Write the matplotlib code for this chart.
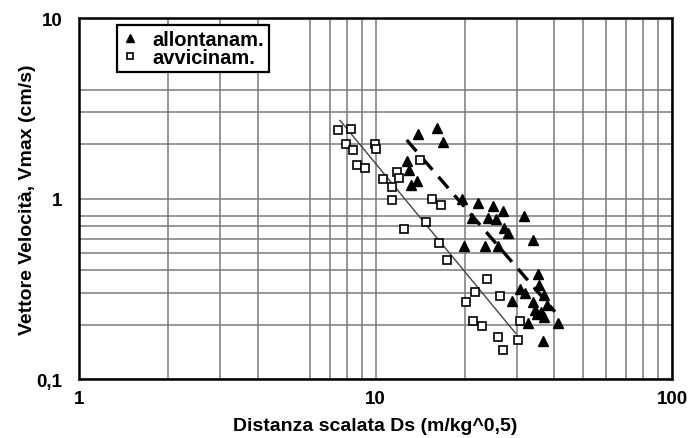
#!/usr/bin/env python3
"""Vmax against scaled distance, log-log, two series with fitted lines."""

import matplotlib
matplotlib.use("Agg")
import matplotlib.pyplot as plt
from matplotlib.ticker import FixedLocator, NullFormatter

plt.rcParams["font.family"] = ["Liberation Sans", "DejaVu Sans"]
plt.rcParams["font.weight"] = "bold"

# allontanam. (filled triangles)
allont_x = [13.86, 16.06, 16.83, 12.74, 12.97, 13.77, 13.22, 19.57, 22.17, 24.96,
            26.98, 21.21, 23.95, 25.59, 31.76, 27.23, 28.05, 33.98, 19.93, 23.35,
            25.96, 35.41, 35.60, 30.72, 31.93, 37.15, 28.87, 34.06, 37.87, 34.51,
            36.02, 34.97, 37.01, 32.76, 41.10, 36.58]
allont_y = [2.28, 2.46, 2.05, 1.62, 1.43, 1.25, 1.19, 0.99, 0.946, 0.906,
            0.858, 0.784, 0.784, 0.774, 0.797, 0.687, 0.645, 0.588, 0.548, 0.548,
            0.546, 0.383, 0.333, 0.315, 0.2985, 0.293, 0.269, 0.266, 0.256, 0.2416,
            0.2365, 0.2297, 0.221, 0.2034, 0.2047, 0.1616]

# avvicinam. (open squares)
avvic_x = [7.49, 8.25, 7.95, 8.40, 9.96, 10.04, 8.64, 9.24, 10.62, 11.82,
           12.00, 11.34, 14.13, 11.39, 15.55, 16.64, 14.77, 12.45, 16.38, 17.39,
           23.83, 21.66, 20.20, 26.36, 21.27, 22.92, 30.78, 25.96, 30.17, 26.92]
avvic_y = [2.395, 2.417, 1.995, 1.848, 2.013, 1.878, 1.531, 1.468, 1.280, 1.407,
           1.292, 1.155, 1.632, 0.978, 0.996, 0.926, 0.745, 0.675, 0.566, 0.454,
           0.356, 0.303, 0.268, 0.2866, 0.2108, 0.1963, 0.2108, 0.171, 0.1647, 0.145]

# regression lines, end points
fit_allont_x = [12.74, 40.3]
fit_allont_y = [2.11, 0.236]
fit_avvic_x = [7.59, 29.7]
fit_avvic_y = [2.71, 0.179]

x_minor = [2, 3, 4, 6, 7, 8, 9, 20, 30, 40, 50, 60, 70, 80, 90]
y_minor = [0.2, 0.3, 0.4, 0.5, 0.6, 0.7, 0.8, 2, 3, 4]

fig = plt.figure(figsize=(6.91, 4.39), dpi=100)
ax = fig.add_axes([79 / 691, 1 - 380 / 439, 593 / 691, 361 / 439])
ax.set_xscale("log")
ax.set_yscale("log")
ax.set_xlim(1, 100)
ax.set_ylim(0.1, 10)

ax.set_xticks([1, 10, 100])
ax.set_xticklabels(["1", "10", "100"])
ax.set_yticks([0.1, 1, 10])
ax.set_yticklabels(["0,1", "1", "10"])
ax.xaxis.set_minor_locator(FixedLocator(x_minor))
ax.yaxis.set_minor_locator(FixedLocator(y_minor))
ax.xaxis.set_minor_formatter(NullFormatter())
ax.yaxis.set_minor_formatter(NullFormatter())
ax.tick_params(which="both", length=0, labelsize=13.5)
ax.tick_params(axis="x", pad=8)
ax.tick_params(axis="y", pad=12)

ax.grid(True, which="both", color="#7a7a7a", linewidth=1.1)
ax.set_axisbelow(True)
for sp in ax.spines.values():
    sp.set_linewidth(1.8)
    sp.set_color("black")

ax.plot(fit_avvic_x, fit_avvic_y, "-", color="#444444", linewidth=1.0, zorder=2)
ax.plot(fit_allont_x, fit_allont_y, color="black", linewidth=2.4,
        linestyle=(0, (4.5, 2.8)), zorder=2)

ax.plot(allont_x, allont_y, "^", color="black", markersize=7.5,
        linestyle="none", zorder=3, label="allontanam.")
ax.plot(avvic_x, avvic_y, "s", markerfacecolor="white", markeredgecolor="black",
        markeredgewidth=1.2, markersize=6.3, linestyle="none", zorder=3,
        label="avvicinam.")

leg = ax.legend(loc="upper left", bbox_to_anchor=(0.064, 0.98), frameon=True,
                fancybox=False, framealpha=1, edgecolor="black",
                fontsize=14.5, markerscale=0.75, handlelength=0.8,
                handletextpad=0.7, borderpad=0.25, labelspacing=-0.05,
                borderaxespad=0)
leg.get_frame().set_linewidth(1.6)

ax.set_xlabel("Distanza scalata Ds (m/kg^0,5)", fontsize=14, fontweight="bold",
              labelpad=7)
ax.set_ylabel("Vettore Velocità, Vmax (cm/s)", fontsize=14, fontweight="bold",
              labelpad=0)

fig.savefig("out.png", dpi=100)
